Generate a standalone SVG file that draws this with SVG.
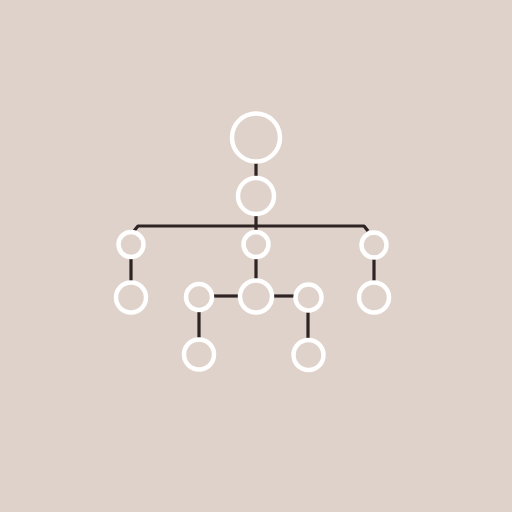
<svg xmlns="http://www.w3.org/2000/svg" width="512" height="512" viewBox="0 0 512 512">
<style>
.n{fill:none;stroke:#ffffff;stroke-width:4.5}
.c{fill:none;stroke:#2e2424;stroke-width:3.2;stroke-linejoin:round}
</style>
<rect width="512" height="512" fill="#dfd2ca"/>
<g id="connectors">
<path class="c" d="M256 163V178"/>
<path class="c" d="M256 215V232"/>
<path class="c" d="M134 231L138 226H364L368 231"/>
<path class="c" d="M131 257V283"/>
<path class="c" d="M256 257V280"/>
<path class="c" d="M374 258V283"/>
<path class="c" d="M213 296H240"/>
<path class="c" d="M272 296H295"/>
<path class="c" d="M199 310V339"/>
<path class="c" d="M308 311V339"/>
</g>
<g id="n1"><circle class="n" cx="256" cy="137.5" r="24"/></g>
<g id="n2"><circle class="n" cx="256" cy="196" r="18"/></g>
<g id="n3"><circle class="n" cx="131" cy="244.5" r="12.5"/></g>
<g id="n4"><circle class="n" cx="256" cy="244.5" r="12.5"/></g>
<g id="n5"><circle class="n" cx="374" cy="245" r="12.5"/></g>
<g id="n6"><circle class="n" cx="131" cy="297.5" r="15"/></g>
<g id="n7"><circle class="n" cx="199" cy="297" r="13"/></g>
<g id="n8"><circle class="n" cx="256" cy="296.5" r="16"/></g>
<g id="n9"><circle class="n" cx="308.5" cy="297.5" r="13"/></g>
<g id="n10"><circle class="n" cx="374" cy="297.5" r="15"/></g>
<g id="n11"><circle class="n" cx="199" cy="354.5" r="15"/></g>
<g id="n12"><circle class="n" cx="308.5" cy="355" r="15"/></g>
</svg>
